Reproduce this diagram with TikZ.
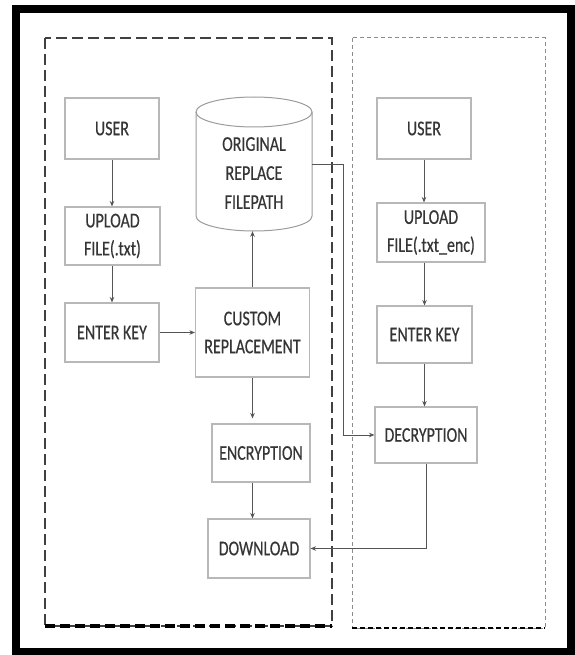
\documentclass[tikz,border=0pt]{standalone}
\usepackage{fontspec}
\setmainfont[FakeStretch=0.76,FakeBold=0.4]{Carlito}
\usetikzlibrary{arrows.meta,calc}
\definecolor{txtc}{HTML}{353535}
\definecolor{boxc}{HTML}{B8B8B8}
\definecolor{linec}{HTML}{555555}
\begin{document}
\begin{tikzpicture}[x=1pt,y=-1pt,
  stepbox/.style={draw=boxc, line width=1.1pt, fill=white, text=txtc, align=center,
    inner sep=0pt, font=\fontsize{21}{28}\selectfont},
  cylbody/.style={draw=boxc!85!black, line width=1pt},
  arr/.style={draw=linec, line width=0.9pt, -{Stealth[length=5.5pt,width=4.5pt]}},
  framebox/.style={draw=black, line width=8pt},
  leftgroup/.style={draw=black!75, line width=2.4pt, dash pattern=on 11pt off 5pt},
  leftbottom/.style={draw=black, line width=4pt, dash pattern=on 10pt off 5pt},
  rightgroup/.style={draw=black!45, line width=1pt, dash pattern=on 4pt off 3pt},
  rightbottom/.style={draw=black, line width=2.5pt, dash pattern=on 5pt off 3pt}]
\useasboundingbox (0,0) rectangle (574,655);
\fill[white] (0,0) rectangle (574,655);
% outer black frame
\draw[framebox] (16,9.5) rectangle (571,651.5);
% group boxes
\draw[leftgroup] (45,38) rectangle (332,626);
\draw[leftbottom] (45,626) -- (332,626);
\draw[rightgroup] (352,38) rectangle (545,628);
\draw[rightbottom] (352,628) -- (545,628);

% left column
\node[stepbox, minimum width=94pt, minimum height=61pt] (user1) at (112,128.5) {USER};
\node[stepbox, minimum width=95pt, minimum height=58pt] (up1) at (112.5,236) {UPLOAD\\FILE(.txt)};
\node[stepbox, minimum width=94pt, minimum height=59pt] (key1) at (112,332.5) {ENTER KEY};

% cylinder (database)
\node[inner sep=0pt, minimum width=116pt, minimum height=134pt] (cyl) at (254,164) {};
\fill[white] (196,112) -- (196,216) arc[start angle=180, end angle=0, x radius=58, y radius=15] -- (312,112) -- cycle;
\draw[cylbody] (196,112) -- (196,216) arc[start angle=180, end angle=0, x radius=58, y radius=15] -- (312,112);
\draw[cylbody] (254,112) ellipse[x radius=58, y radius=15];
\node[text=txtc, align=center, font=\fontsize{21}{29}\selectfont] (cyltext) at (254,173) {ORIGINAL\\REPLACE\\FILEPATH};

\node[stepbox, minimum width=114pt, minimum height=89pt] (cust) at (252.5,332.5) {CUSTOM\\REPLACEMENT};
\node[stepbox, minimum width=98pt, minimum height=58pt] (enc) at (261,453) {ENCRYPTION};
\node[stepbox, minimum width=102pt, minimum height=59pt] (down) at (259,548.5) {DOWNLOAD};

% right column
\node[stepbox, minimum width=94pt, minimum height=61pt] (user2) at (424,128.5) {USER};
\node[stepbox, minimum width=108pt, minimum height=59pt] (up2) at (431,232.5) {UPLOAD\\FILE(.txt\_enc)};
\node[stepbox, minimum width=95pt, minimum height=57pt] (key2) at (424.5,334.5) {ENTER KEY};
\node[stepbox, minimum width=102pt, minimum height=56pt] (dec) at (426,435) {DECRYPTION};

% connectors
\draw[arr] (user1.south) -- (user1.south |- up1.north);
\draw[arr] (up1.south -| user1.south) -- (key1.north);
\draw[arr] (key1.east) -- (key1.east -| cust.west);
\draw[arr] (cust.north) -- (cust.north |- cyl.south);
\draw[arr, shorten >=5pt] (cust.south) -- (cust.south |- enc.north);
\draw[arr] (enc.south -| cust.south) -- (down.north -| cust.south);
\draw[arr] (cyl.east) -- ++(31,0) |- (dec.west);
\draw[arr] (dec.south) |- (down.east);
\draw[arr] (user2.south) -- (user2.south |- up2.north);
\draw[arr] (up2.south -| key2.north) -- (key2.north);
\draw[arr] (key2.south) -- (key2.south |- dec.north);
\end{tikzpicture}
\end{document}
